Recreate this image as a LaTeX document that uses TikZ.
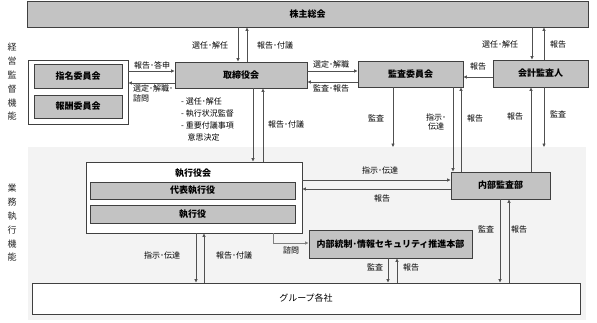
\documentclass[tikz,border=0pt]{standalone}
\usepackage{fontspec}
\newfontfamily\jp{Noto Sans CJK JP}
\usetikzlibrary{arrows.meta}
\definecolor{boxfill}{HTML}{C3C3C3}
\definecolor{boxline}{HTML}{404040}
\definecolor{linec}{HTML}{505050}
\definecolor{bgfill}{HTML}{F3F3F3}
\begin{document}
\begin{tikzpicture}[x=1pt,y=-1pt,
  gbox/.style={draw=boxline,fill=boxfill,line width=0.9pt,inner sep=0pt,font=\jp\bfseries\fontsize{9}{10}\selectfont},
  wbox/.style={draw=boxline,fill=white,line width=0.9pt,inner sep=0pt},
  arr/.style={draw=linec,line width=0.7pt,-{Triangle[length=3.5pt,width=3pt]}},
  lbl/.style={inner sep=0pt,font=\jp\fontsize{8}{9}\selectfont,text=black},
  vlbl/.style={inner sep=0pt,align=center,font=\jp\fontsize{9}{13.8}\selectfont,text=black!85}]
\useasboundingbox (0,0) rectangle (597,322);
% background of execution area
\fill[bgfill] (28,147) rectangle (586,320);
% boxes
\node[gbox,minimum width=561pt,minimum height=26pt] (sh) at (307.5,14) {株主総会};
\node[wbox,minimum width=100pt,minimum height=64pt] (grp) at (78,92) {};
\node[gbox,minimum width=88pt,minimum height=24pt] (shimei) at (78,76) {指名委員会};
\node[gbox,minimum width=88pt,minimum height=23pt] (hoshu) at (78,106.5) {報酬委員会};
\node[gbox,minimum width=132pt,minimum height=26pt] (tori) at (241,75) {取締役会};
\node[gbox,minimum width=105pt,minimum height=26pt] (kansa) at (410.5,74) {監査委員会};
\node[gbox,minimum width=95pt,minimum height=27pt] (kaikei) at (540.5,73.5) {会計監査人};
\node[wbox,minimum width=216pt,minimum height=71pt] (shikko) at (194,197.5) {};
\node[inner sep=0pt,font=\jp\bfseries\fontsize{9}{10}\selectfont] (shikkot) at (193,173) {執行役会};
\node[gbox,minimum width=205pt,minimum height=17pt] (daihyo) at (192.5,190.5) {代表執行役};
\node[gbox,minimum width=205pt,minimum height=18pt] (yaku) at (192.5,214) {執行役};
\node[gbox,minimum width=99pt,minimum height=27pt] (naibu) at (500.5,185.5) {内部監査部};
\node[gbox,minimum width=163pt,minimum height=28pt] (ics) at (390.5,244) {内部統制･情報セキュリティ推進本部};
\node[wbox,minimum width=548pt,minimum height=31pt,font=\jp\fontsize{9}{10}\selectfont] (group) at (306,298.5) {グループ各社};
% vertical labels
\node[vlbl] (v1) at (12,82) {経\\営\\監\\督\\機\\能};
\node[vlbl] (v2) at (12,223) {業\\務\\執\\行\\機\\能};
% shareholders <-> board
\draw[arr] (238,0 |- sh.south) -- (238,0 |- tori.north);
\draw[arr] (247,0 |- tori.north) -- (247,0 |- sh.south);
\node[lbl] (l1) at (210,45) {選任･解任};
\node[lbl] (l2) at (275,45) {報告･付議};
% shareholders <-> auditor
\draw[arr] (532,0 |- sh.south) -- (532,0 |- kaikei.north);
\draw[arr] (544,0 |- kaikei.north) -- (544,0 |- sh.south);
\node[lbl] (l3) at (500,44) {選任･解任};
\node[lbl] (l4) at (558,44) {報告};
% board <-> committees
\draw[arr] (grp.east |- 0,71) -- (tori.west |- 0,71);
\draw[arr] (tori.west |- 0,83) -- (grp.east |- 0,83);
\node[lbl] (l5) at (152,65) {報告･答申};
\node[lbl,anchor=west] (l6) at (133,88.5) {選定･解職･};
\node[lbl,anchor=west] (l7) at (133,98) {諮問};
% board <-> audit committee
\draw[arr] (tori.east |- 0,71) -- (kansa.west |- 0,71);
\draw[arr] (kansa.west |- 0,82) -- (tori.east |- 0,82);
\node[lbl] (l8) at (331,64) {選定･解職};
\node[lbl] (l9) at (331,88.5) {監査･報告};
% auditor -> audit committee
\draw[arr] (kaikei.west |- 0,77) -- (kansa.east |- 0,77);
\node[lbl] (l10) at (478,66) {報告};
% board <-> executive officers
\draw[arr] (253,0 |- tori.south) -- (253,0 |- shikko.north);
\draw[arr] (263,0 |- shikko.north) -- (263,0 |- tori.south);
\node[lbl] (l11) at (286,124) {報告･付議};
\node[lbl,anchor=north west,align=left,font=\jp\fontsize{8}{11.8}\selectfont] (l12) at (181,98) {- 選任･解任\\- 執行状況監督\\- 重要付議事項\\\hspace*{6.5pt}意思決定};
% audit committee down
\coordinate (aud1) at (393,147);
\draw[arr] (393,0 |- kansa.south) -- (aud1);
\node[lbl] (l13) at (376,118) {監査};
\draw[arr] (453,0 |- kansa.south) -- (453,0 |- naibu.north);
\draw[arr] (461,0 |- naibu.north) -- (461,0 |- kansa.south);
\node[lbl,align=center] (l14) at (436,122) {指示･\\伝達};
\node[lbl] (l15) at (475,118) {報告};
% auditor down
\draw[arr] (531,0 |- naibu.north) -- (531,0 |- kaikei.south);
\node[lbl] (l16) at (515,116) {報告};
\coordinate (aud2) at (544,147);
\draw[arr] (544,0 |- kaikei.south) -- (aud2);
\node[lbl] (l17) at (558,114) {監査};
% executive <-> internal audit
\draw[arr] (shikko.east |- 0,180) -- (naibu.west |- 0,180);
\draw[arr] (naibu.west |- 0,189) -- (shikko.east |- 0,189);
\node[lbl] (l18) at (380,170) {指示･伝達};
\node[lbl] (l19) at (382,198.5) {報告};
% consult
\draw[arr,draw=black!50] (273,0 |- shikko.south) |- (ics.west |- 0,243);
\node[lbl] (l20) at (291,250) {諮問};
% executive <-> group
\draw[arr] (196,0 |- shikko.south) -- (196,0 |- group.north);
\draw[arr] (204,0 |- group.north) -- (204,0 |- shikko.south);
\node[lbl] (l21) at (162,255) {指示･伝達};
\node[lbl] (l22) at (234,255) {報告･付議};
% ics <-> group
\draw[arr] (388,0 |- ics.south) -- (388,0 |- group.north);
\draw[arr] (397,0 |- group.north) -- (397,0 |- ics.south);
\node[lbl] (l23) at (375,267) {監査};
\node[lbl] (l24) at (411,267) {報告};
% internal audit <-> group
\draw[arr] (500,0 |- naibu.south) -- (500,0 |- group.north);
\draw[arr] (509,0 |- group.north) -- (509,0 |- naibu.south);
\node[lbl] (l25) at (486,229) {監査};
\node[lbl] (l26) at (519,229) {報告};
\end{tikzpicture}
\end{document}
